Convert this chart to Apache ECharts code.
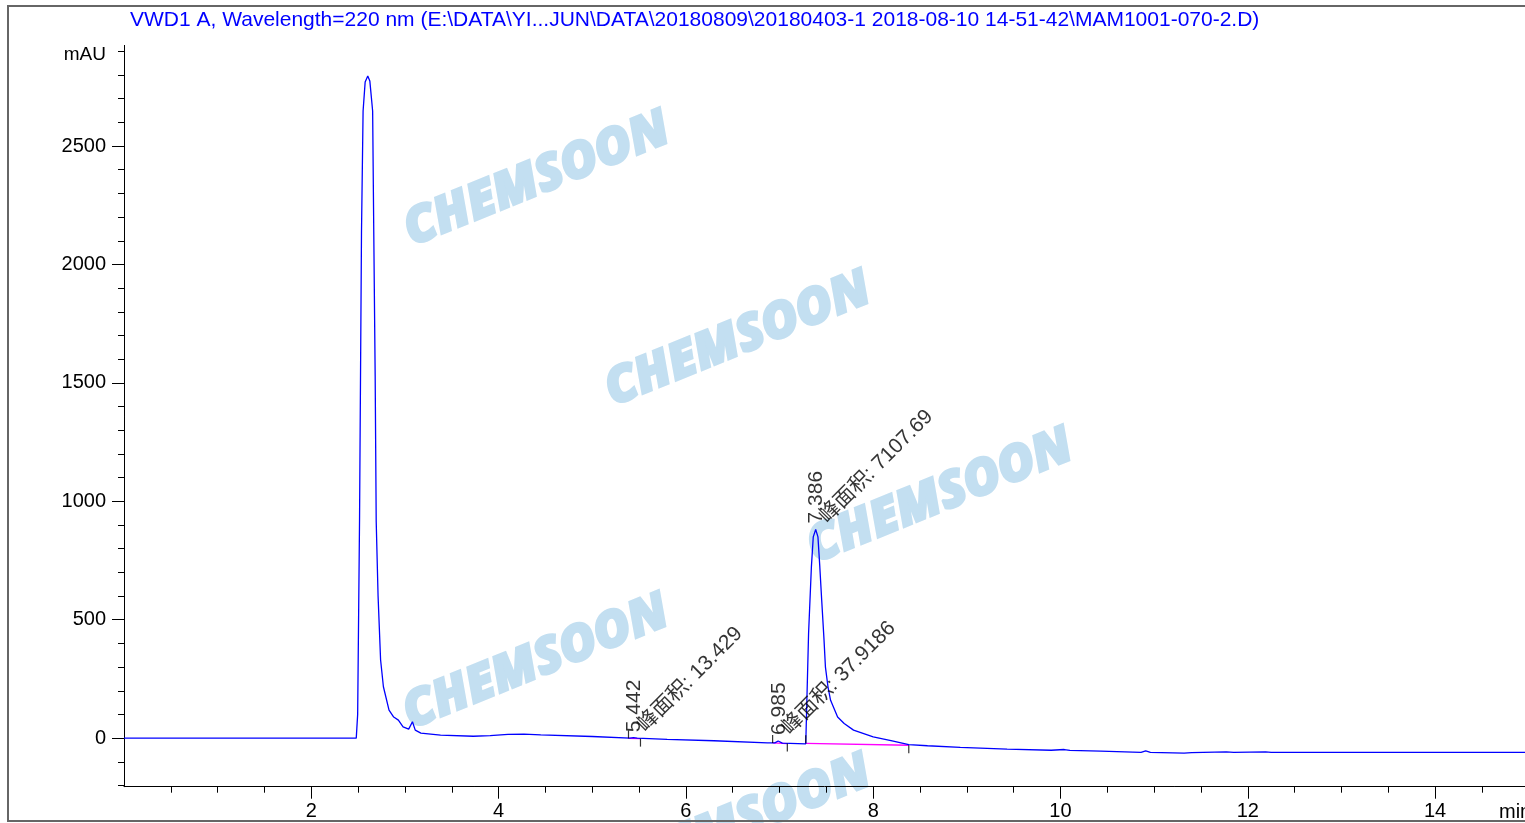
<!DOCTYPE html>
<html>
<head>
<meta charset="utf-8">
<script src="https://cdn.jsdelivr.net/npm/echarts@6/dist/echarts.min.js"></script>
<style>
html,body{margin:0;padding:0;background:#fff;}
#chart{width:1525px;height:823px;}
</style>
</head>
<body>
<div id="chart"></div>
<script>
// ---- data ----
const titleText = 'VWD1 A, Wavelength=220 nm (E:\\DATA\\YI...JUN\\DATA\\20180809\\20180403-1 2018-08-10 14-51-42\\MAM1001-070-2.D)';
const times = [0.00, 2.48, 2.495, 2.515, 2.536, 2.553, 2.575, 2.603, 2.625, 2.655, 2.667, 2.682, 2.693, 2.713, 2.74, 2.77, 2.83, 2.88, 2.93, 2.98, 3.04, 3.08, 3.11, 3.17, 3.38, 3.73, 3.91, 4.10, 4.27, 4.45, 5.00, 5.40, 5.44, 5.48, 5.80, 6.30, 6.87, 6.95, 6.985, 7.03, 7.28, 7.295, 7.31, 7.34, 7.36, 7.386, 7.41, 7.43, 7.45, 7.475, 7.49, 7.517, 7.545, 7.62, 7.69, 7.79, 8.00, 8.19, 8.38, 8.58, 8.93, 9.43, 9.90, 10.04, 10.10, 10.43, 10.86, 10.91, 10.96, 11.32, 11.40, 11.77, 11.85, 12.19, 12.25, 12.57, 14.96];
const signal = [0, 0, 100, 916, 2138, 2648, 2770, 2796, 2775, 2648, 2138, 1530, 916, 600, 330, 217, 118, 89, 76, 48, 38, 69, 34, 21, 13, 8, 11, 16, 17, 14, 7, 0, 2, 0, -5, -11, -20, -20, -12, -21, -24, -22, 443, 723, 850, 881, 850, 723, 583, 414, 300, 217, 160, 89, 62, 34, 5, -10, -27, -32, -39, -46, -51, -48, -52, -55, -60, -54, -60, -63, -61, -58, -60, -58, -60, -60, -60];

const peakTimes = [5.442, 6.985, 7.386];
const peakApex = [0, -12, 881];
const peakAreas = ['13.429', '37.9186', '7107.69'];
const peakStartT = [5.387, 6.926, 7.28];
const peakStartV = [-1, -20, -22];
const peakEndT = [5.515, 7.083, 8.38];
const peakEndV = [-2, -23, -30];

const yMajorTicks = [0, 500, 1000, 1500, 2000, 2500];
const yLabelValues = [0, 500, 1000, 1500, 2000, 2500, 2900];
const yMinorTicks = [-200, -100, 0, 100, 200, 300, 400, 500, 600, 700, 800, 900, 1000, 1100, 1200, 1300, 1400, 1500, 1600, 1700, 1800, 1900, 2000, 2100, 2200, 2300, 2400, 2500, 2600, 2700, 2800, 2900];
const xMajorTicks = [2, 4, 6, 8, 10, 12, 14];
const xMinorTicks = [0.5, 1, 1.5, 2, 2.5, 3, 3.5, 4, 4.5, 5, 5.5, 6, 6.5, 7, 7.5, 8, 8.5, 9, 9.5, 10, 10.5, 11, 11.5, 12, 12.5, 13, 13.5, 14, 14.5];
const yUnit = 'mAU';
const xUnit = 'min';
const watermarkText = 'CHEMSOON';
const areaPrefix = '峰面积: ';

// ---- chart ----
const FONT = "'Liberation Sans', Arial, 'Noto Sans CJK SC', sans-serif";
const chart = echarts.init(document.getElementById('chart'));

const baseSegments = peakStartT.map((t, i) => [[t, peakStartV[i]], [peakEndT[i], peakEndV[i]]]);

const wmPositions = [[537, 180], [738, 340], [940, 497], [536, 663], [738, 823]];

const option = {
  animation: false,
  backgroundColor: '#fff',
  title: {
    text: titleText,
    left: 125, top: 5,
    textStyle: { color: '#0000ff', fontSize: 21, fontWeight: 'normal', fontFamily: FONT }
  },
  grid: { left: 124, right: 0, top: 45.4, bottom: 36.3, containLabel: false },
  xAxis: [
    {
      type: 'value', min: 0, max: 14.96, position: 'bottom',
      axisLine: { show: true, onZero: false, lineStyle: { color: '#000', width: 1 } },
      axisTick: { show: true, customValues: xMajorTicks, length: 12, lineStyle: { color: '#000' } },
      axisLabel: { customValues: xMajorTicks, fontSize: 20, color: '#000', margin: 15, fontFamily: FONT },
      splitLine: { show: false }
    },
    {
      type: 'value', min: 0, max: 14.96, position: 'bottom',
      axisLine: { show: false, onZero: false },
      axisTick: { show: true, customValues: xMinorTicks, length: 6, lineStyle: { color: '#000' } },
      axisLabel: { show: false },
      splitLine: { show: false }
    }
  ],
  yAxis: [
    {
      type: 'value', min: -205, max: 2925, position: 'left',
      axisLine: { show: true, onZero: false, lineStyle: { color: '#000', width: 1 } },
      axisTick: { show: true, customValues: yMajorTicks, length: 12, lineStyle: { color: '#000' } },
      axisLabel: {
        customValues: yLabelValues, fontSize: 20, color: '#000', margin: 18, fontFamily: FONT,
        formatter: v => (v === 2900 ? '{u|' + yUnit + '}' : String(v)),
        rich: { u: { fontSize: 19, color: '#000', fontFamily: FONT, padding: [7, 0, 0, 0] } }
      },
      splitLine: { show: false }
    },
    {
      type: 'value', min: -205, max: 2925, position: 'left',
      axisLine: { show: false, onZero: false },
      axisTick: { show: true, customValues: yMinorTicks, length: 6, lineStyle: { color: '#000' } },
      axisLabel: { show: false },
      splitLine: { show: false }
    }
  ],
  graphic: [
    {
      type: 'rect', z: 100, silent: true,
      shape: { x: 8, y: 6, width: 1530, height: 815 },
      style: { fill: 'none', stroke: '#666', lineWidth: 2 }
    },
    {
      type: 'text', z: 100, x: 1499, y: 812.5,
      style: { text: xUnit, font: "20px 'Liberation Sans', Arial, sans-serif", fill: '#000', textVerticalAlign: 'middle', textAlign: 'left' }
    }
  ].concat(wmPositions.map(p => ({
    type: 'text', z: -10, zlevel: 0, x: p[0], y: p[1], rotation: 22 * Math.PI / 180, silent: true,
    style: {
      text: watermarkText, font: "italic 800 50px 'Open Sans', 'DejaVu Sans', sans-serif",
      fill: '#c3dff1', stroke: '#c3dff1', lineWidth: 2.5, textAlign: 'center', textVerticalAlign: 'middle'
    }
  }))),
  series: [
    {
      type: 'line', name: 'signal', xAxisIndex: 0, yAxisIndex: 0,
      data: times.map((t, i) => [t, signal[i]]),
      showSymbol: false, symbol: 'none', smooth: false, z: 5,
      lineStyle: { color: '#0000ff', width: 1.3 }
    }
  ].concat(baseSegments.map(seg => ({
    type: 'line', xAxisIndex: 0, yAxisIndex: 0, data: seg, symbol: 'none', z: 4,
    lineStyle: { color: '#ff00ff', width: 1.3 }
  }))).concat([
    {
      type: 'scatter', xAxisIndex: 0, yAxisIndex: 0, z: 6,
      data: peakStartT.map((t, i) => [t, peakStartV[i]]),
      symbol: 'rect', symbolSize: [1.2, 8], symbolOffset: [0, -4],
      itemStyle: { color: '#000' }
    },
    {
      type: 'scatter', xAxisIndex: 0, yAxisIndex: 0, z: 6,
      data: peakEndT.map((t, i) => [t, peakEndV[i]]),
      symbol: 'rect', symbolSize: [1.2, 8], symbolOffset: [0, 4],
      itemStyle: { color: '#000' }
    },
    {
      type: 'scatter', xAxisIndex: 0, yAxisIndex: 0, z: 7,
      data: peakTimes.map((t, i) => [t, peakApex[i]]),
      symbolSize: 0,
      label: {
        show: true, position: 'inside', rotate: 90, align: 'left', verticalAlign: 'middle',
        offset: [6, 1], fontSize: 21, color: '#000', fontFamily: FONT,
        formatter: p => peakTimes[p.dataIndex].toFixed(3)
      }
    },
    {
      type: 'scatter', xAxisIndex: 0, yAxisIndex: 0, z: 7,
      data: peakTimes.map((t, i) => [t, peakApex[i]]),
      symbolSize: 0,
      label: {
        show: true, position: 'inside', rotate: 45, align: 'left', verticalAlign: 'bottom',
        offset: [12, 9], fontSize: 21, color: '#000', fontFamily: FONT,
        formatter: p => areaPrefix + peakAreas[p.dataIndex]
      }
    }
  ])
};
chart.setOption(option);
</script>
</body>
</html>
